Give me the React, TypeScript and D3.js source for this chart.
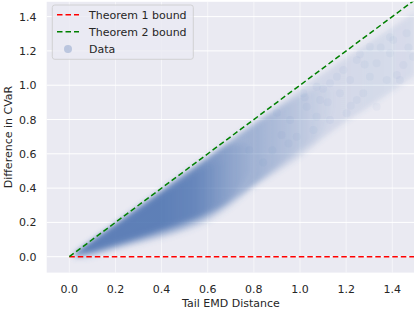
import React from "react";
import * as d3 from "d3";

// ---- data ----
const xTicks = [0, 0.2, 0.4, 0.6, 0.8, 1.0, 1.2, 1.4];
const yTicks = [0, 0.2, 0.4, 0.6, 0.8, 1.0, 1.2, 1.4];

const boundX = [0, 1.55];
const theorem1Y = [0, 0];
const theorem2Y = [0, 1.55];

// density envelopes of the data cloud (x, lower, upper)
const outerX = [0.02, 0.05, 0.1, 0.2, 0.3, 0.4, 0.5, 0.6, 0.7, 0.8, 0.9, 1.0, 1.1, 1.2, 1.3, 1.4, 1.5];
const outerLo = [-0.012, -0.014, -0.004, 0.035, 0.07, 0.105, 0.145, 0.2, 0.29, 0.4, 0.49, 0.58, 0.69, 0.79, 0.875, 0.965, 1.06];
const outerHi = [0.02, 0.05, 0.1, 0.198, 0.296, 0.394, 0.492, 0.59, 0.688, 0.785, 0.88, 0.975, 1.07, 1.16, 1.25, 1.34, 1.43];

const midX = [0.02, 0.1, 0.2, 0.3, 0.4, 0.5, 0.6, 0.7, 0.8, 0.9, 1.0, 1.1, 1.15];
const midLo = [0.0, 0.016, 0.052, 0.088, 0.125, 0.168, 0.228, 0.32, 0.42, 0.52, 0.62, 0.74, 0.88];
const midHi = [0.02, 0.097, 0.194, 0.291, 0.388, 0.485, 0.58, 0.675, 0.77, 0.86, 0.94, 0.99, 0.96];

const coreX = [0.03, 0.1, 0.2, 0.3, 0.4, 0.5, 0.6, 0.7, 0.78];
const coreLo = [0.008, 0.026, 0.065, 0.104, 0.148, 0.195, 0.255, 0.34, 0.5];
const coreHi = [0.03, 0.096, 0.192, 0.288, 0.384, 0.478, 0.57, 0.655, 0.66];

const innerX = [0.06, 0.2, 0.3, 0.4, 0.5, 0.6, 0.68];
const innerLo = [0.025, 0.08, 0.12, 0.165, 0.212, 0.27, 0.35];
const innerHi = [0.055, 0.18, 0.272, 0.364, 0.452, 0.53, 0.56];

// individual sparse points in the outer cloud
const dataX = [1.448, 1.462, 1.39, 1.332, 1.274, 1.246, 1.332, 1.202, 1.13, 1.072, 1.058, 0.986, 1.188, 1.13, 1.217, 1.303, 1.376, 1.404, 1.303, 1.246, 1.173, 1.087, 1.029, 0.957, 1.072, 1.014, 0.9, 1.49, 1.433, 1.42, 1.35, 1.28, 1.16, 1.1, 0.95, 0.88, 1.47, 1.39, 1.22, 1.02, 0.84, 0.78, 0.92, 1.12, 1.26];
const dataY = [1.118, 1.303, 1.186, 1.128, 0.953, 0.914, 0.875, 0.836, 0.797, 0.816, 0.739, 0.7, 1.089, 1.011, 1.03, 1.05, 1.03, 1.264, 1.224, 1.147, 0.953, 0.914, 0.875, 0.797, 0.991, 0.953, 0.84, 1.166, 1.03, 1.06, 1.22, 1.12, 1.05, 0.98, 0.66, 0.62, 1.22, 1.28, 0.88, 0.93, 0.55, 0.62, 0.71, 0.9, 1.18];

const BLUE = "#4c72b0";
const TEXT = "#262626";
const FONT = "DejaVu Sans, sans-serif";

export default function App() {
  const W = 416, H = 310;
  const plotL = 46.7, plotR = 414, plotT = 1.8, plotB = 272.6;
  const x = d3.scaleLinear().domain([0, 1.4]).range([69.3, 392.3]);
  const y = d3.scaleLinear().domain([0, 1.4]).range([256.7, 16.6]);

  const band = (xs: number[], lo: number[], hi: number[]) =>
    d3
      .area<number>()
      .x((_, i) => x(xs[i]))
      .y0((_, i) => y(lo[i]))
      .y1((_, i) => y(hi[i]))
      .curve(d3.curveMonotoneX)(xs) || "";

  const line = (xs: number[], ys: number[]) =>
    d3
      .line<number>()
      .x((_, i) => x(xs[i]))
      .y((_, i) => y(ys[i]))(xs) || "";

  const grad = (id: string, a: number, b: number, op0: number, op1: number) => (
    <linearGradient id={id} gradientUnits="userSpaceOnUse" x1={x(a)} y1={0} x2={x(b)} y2={0}>
      <stop offset="0" stopColor={BLUE} stopOpacity={op0} />
      <stop offset="1" stopColor={BLUE} stopOpacity={op1} />
    </linearGradient>
  );

  return (
    <svg width={W} height={H} style={{ display: "block", position: "absolute", left: 0, top: 0 }}>
      <defs>
        <clipPath id="plotclip">
          <rect x={plotL} y={plotT} width={plotR - plotL} height={plotB - plotT} />
        </clipPath>
        <filter id="soft" x="-10%" y="-10%" width="120%" height="120%">
          <feGaussianBlur stdDeviation="2.6" />
        </filter>
        {grad("gOuter", 0.9, 1.5, 0.17, 0.12)}
        {grad("gMid", 0.8, 1.15, 0.36, 0.0)}
        {grad("gCore", 0.55, 0.8, 0.55, 0.0)}
        {grad("gInner", 0.42, 0.68, 0.5, 0.0)}
      </defs>
      <rect x={0} y={0} width={W} height={H} fill="#ffffff" />
      <rect x={plotL} y={plotT} width={plotR - plotL} height={plotB - plotT} fill="#eaeaf2" />
      {/* grid */}
      <g stroke="#ffffff" strokeWidth={1}>
        {xTicks.map((t) => (
          <line key={"gx" + t} x1={x(t)} x2={x(t)} y1={plotT} y2={plotB} strokeOpacity={0.55} />
        ))}
        {yTicks.map((t) => (
          <line key={"gy" + t} x1={plotL} x2={plotR} y1={y(t)} y2={y(t)} />
        ))}
      </g>
      <g clipPath="url(#plotclip)">
        <g filter="url(#soft)">
          <path d={band(outerX, outerLo, outerHi)} fill="url(#gOuter)" />
          <path d={band(midX, midLo, midHi)} fill="url(#gMid)" />
          <path d={band(coreX, coreLo, coreHi)} fill="url(#gCore)" />
          <path d={band(innerX, innerLo, innerHi)} fill="url(#gInner)" />
        </g>
        <g fill={BLUE} fillOpacity={0.045}>
          {dataX.map((v, i) => (
            <circle key={"p" + i} cx={x(v)} cy={y(dataY[i])} r={4} />
          ))}
        </g>
        <path d={line(boundX, theorem1Y)} stroke="#ff0000" strokeWidth={1.5} strokeDasharray="5.5,3" fill="none" />
        <path d={line(boundX, theorem2Y)} stroke="#008000" strokeWidth={1.5} strokeDasharray="5.5,3" fill="none" />
      </g>
      {/* tick labels */}
      <g fontFamily={FONT} fontSize={11} fill={TEXT}>
        {xTicks.map((t) => (
          <text key={"tx" + t} x={x(t)} y={293} textAnchor="middle">
            {d3.format(".1f")(t)}
          </text>
        ))}
        {yTicks.map((t) => (
          <text key={"ty" + t} x={36.5} y={y(t) + 4} textAnchor="end">
            {d3.format(".1f")(t)}
          </text>
        ))}
        <text x={231} y={307} textAnchor="middle">Tail EMD Distance</text>
        <text transform={`translate(12.3,137) rotate(-90)`} textAnchor="middle">Difference in CVaR</text>
      </g>
      {/* legend */}
      <g fontFamily={FONT} fontSize={11} fill={TEXT}>
        <rect x={52.3} y={5} width={141} height={54.3} rx={2.5} fill="#eaeaf2" fillOpacity={0.8} stroke="#cccccc" strokeWidth={0.8} />
        <line x1={57} x2={79} y1={14.7} y2={14.7} stroke="#ff0000" strokeWidth={1.5} strokeDasharray="5.5,3" />
        <text x={89} y={18.7}>Theorem 1 bound</text>
        <line x1={57} x2={79} y1={31.7} y2={31.7} stroke="#008000" strokeWidth={1.5} strokeDasharray="5.5,3" />
        <text x={89} y={35.7}>Theorem 2 bound</text>
        <circle cx={68} cy={49} r={4} fill={BLUE} fillOpacity={0.3} />
        <text x={89} y={53}>Data</text>
      </g>
    </svg>
  );
}
